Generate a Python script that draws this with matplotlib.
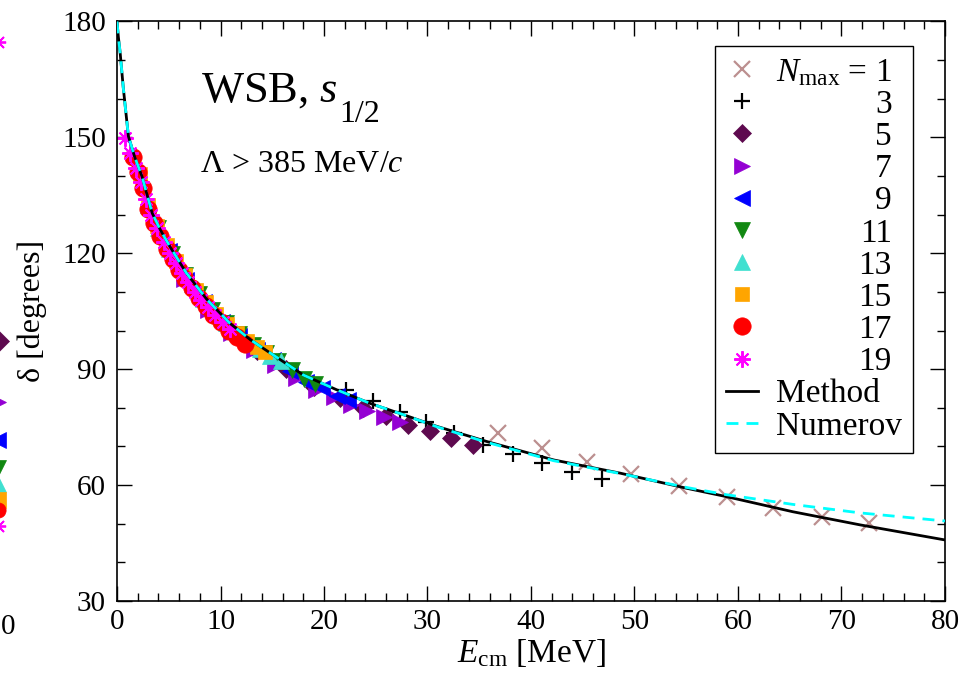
import matplotlib
matplotlib.use('Agg')
import matplotlib.pyplot as plt
from matplotlib.ticker import MultipleLocator
from matplotlib.transforms import Bbox

plt.rcParams['font.family'] = ['Liberation Serif', 'DejaVu Serif']
plt.rcParams['mathtext.fontset'] = 'custom'
plt.rcParams['mathtext.rm'] = 'Liberation Serif'
plt.rcParams['mathtext.it'] = 'Liberation Serif:italic'
plt.rcParams['mathtext.bf'] = 'Liberation Serif:bold'

# ---------------- data ----------------
method_E = [0, 0.13, 0.3, 0.6, 1.1, 1.7, 2.4, 3.4, 4.2, 5.1, 6.7, 8.7, 10.9, 12.9,
            14.8, 18, 21.2, 24.4, 27.7, 30.9, 35.7, 42.2, 48.6, 55.0, 58.9, 65.3, 71.8, 80]
method_d = [180, 176, 172, 163, 150.3, 145, 140, 130.4, 126, 121.8, 114.9, 108, 101.9, 97.6,
            94.2, 88.5, 84.7, 81.2, 78.2, 75.2, 71.3, 66.5, 63.1, 59.2, 57.0, 53.1, 49.7, 45.8]

numerov_E = [0, 0.13, 0.3, 0.6, 1.1, 1.7, 2.4, 3.4, 4.2, 5.1, 6.7, 8.7, 10.9, 12.9,
             14.8, 18, 21.2, 24.4, 27.7, 30.9, 35.7, 42.2, 48.6, 55.0, 58.9, 65.3, 71.8, 80]
numerov_d = [180, 176, 172, 163, 150.3, 145, 140, 130.4, 126, 121.8, 114.9, 108, 101.9, 97.6,
             94.2, 88.5, 84.7, 81.2, 78.2, 75.1, 71.1, 66.3, 63.0, 59.4, 57.5, 55.0, 52.8, 50.7]

N1_E = [36.8, 41.1, 45.4, 49.7, 54.3, 58.9, 63.4, 68.1, 72.7]
N1_d = [73.4, 69.6, 66.1, 62.9, 59.8, 56.9, 54.0, 51.8, 50.1]

N3_E = [22.1, 24.7, 27.3, 29.9, 32.6, 35.4, 38.3, 41.1, 44.0, 46.9]
N3_d = [84.7, 81.8, 79.0, 76.4, 73.5, 70.4, 68.0, 65.8, 63.5, 61.6]

N5_E = [10.5, 13.5, 16.3, 19.0, 21.5, 23.8, 26.0, 28.1, 30.2, 32.3, 34.4]
N5_d = [101.2, 94.8, 90.0, 85.4, 82.5, 80.0, 77.8, 75.6, 73.9, 72.2, 70.4]

N7_E = [6.5, 8.8, 11.0, 13.2, 15.3, 17.3, 19.2, 21.0, 22.6, 24.2, 25.8, 27.3]
N7_d = [113.4, 105.3, 99.4, 94.9, 91.2, 87.7, 84.7, 82.7, 80.8, 79.1, 77.6, 76.3]

N9_E = [5.0, 6.7, 8.4, 10.1, 11.8, 13.5, 15.1, 16.7, 18.3, 19.8, 21.3, 22.3]
N9_d = [120.5, 113.2, 107.3, 102.3, 98.5, 95.0, 92.3, 89.5, 86.8, 85.0, 83.1, 82.0]

N11_E = [4.0, 5.3, 6.6, 7.9, 9.2, 10.5, 11.8, 13.1, 14.4, 15.6, 16.9, 18.1, 19.1]
N11_d = [126.5, 119.9, 114.3, 109.5, 105.4, 101.9, 99.0, 96.2, 94.1, 92.0, 89.7, 87.4, 86.1]

N13_E = [3.0, 4.0, 5.0, 6.1, 7.2, 8.3, 9.4, 10.5, 11.6, 12.7, 13.8, 14.8, 15.8]
N13_d = [132.5, 126.5, 121.2, 116.4, 112.1, 108.2, 104.8, 101.9, 99.4, 97.0, 95.1, 93.4, 92.0]

N15_E = [2.2, 3.0, 3.9, 4.8, 5.7, 6.6, 7.6, 8.6, 9.6, 10.6, 11.6, 12.6, 13.5, 14.3]
N15_d = [140.5, 132.5, 127.0, 122.2, 118.0, 114.3, 110.6, 107.3, 104.2, 101.7, 99.4, 97.2, 95.7, 94.4]

N17_E = [1.5, 2.0, 2.5, 3.0, 3.6, 4.2, 4.8, 5.4, 6.0, 6.6, 7.2, 7.9, 8.6, 9.3, 10.0, 10.8, 11.6, 12.4]
N17_d = [145, 141, 137, 131.5, 127.8, 124.4, 121.2, 118.4, 115.8, 113.3, 111.1, 108.5, 106.3, 104.0,
         102.2, 100.0, 98.4, 96.6]

N19_E = [0.8, 1.3, 1.8, 2.3, 2.8, 3.3, 3.9, 4.5, 5.1, 5.7, 6.3, 6.9, 7.5, 8.1, 8.8, 9.5, 10.2, 10.9]
N19_d = [149.8, 146, 142, 138.5, 134, 130, 126.5, 123, 120, 117.5, 115, 112.5, 110, 108, 106, 104,
         102.2, 100.3]

# cropped neighbouring panel (only its right-most sliver is visible)
edge_d = [174.8, 97.4, 81.6, 71.7, 64.5, 60.3, 56.2, 53.6, 49.4]
edge_markers = [(8, 2, 0), 'D', '>', '<', 'v', '^', 's', 'o', (8, 2, 0)]
edge_colors = ['#ff00ff', '#5e0a4f', '#9400d3', '#0000ff', '#118811', '#40e0d0', '#ffa500', '#ff0000', '#ff00ff']

nmax_labels = [r'$N_{\rm max}$ = 1', '3', '5', '7', '9', '11', '13', '15', '17', '19']
x_ticks = [0, 10, 20, 30, 40, 50, 60, 70, 80]
y_ticks = [30, 60, 90, 120, 150, 180]

# ---------------- figure ----------------
fig = plt.figure(figsize=(9.67, 6.82), dpi=100)
ax = fig.add_axes([0.121, 0.1188, 0.8562, 0.8497])

# sliver of the neighbouring panel at the far left
ax0 = fig.add_axes([-0.2, 0.1188, 0.2, 0.8497])
ax0.set_xlim(0, 1)
ax0.set_ylim(30, 180)
ax0.axis('off')
for dv, mk, c in zip(edge_d, edge_markers, edge_colors):
    ax0.plot([0.99], [dv], ls='none', marker=mk, color=c, markeredgecolor=c, ms=11,
             mew=1.3 if isinstance(mk, tuple) else 0.5, clip_on=False)
fig.text(0.001, 1 - 627 / 682, '0', fontsize=21, ha='left', va='center')

styles = [
    dict(marker='x', color='#bc8f8f', ms=11, mew=1.6),
    dict(marker='+', color='black', ms=12, mew=1.6),
    dict(marker='D', color='#5e0a4f', ms=9, mew=0.5),
    dict(marker='>', color='#9400d3', ms=11, mew=0.5),
    dict(marker='<', color='#0000ff', ms=11, mew=0.5),
    dict(marker='v', color='#118811', ms=11, mew=0.5),
    dict(marker='^', color='#40e0d0', ms=11, mew=0.5),
    dict(marker='s', color='#ffa500', ms=10.5, mew=0.5),
    dict(marker='o', color='#ff0000', ms=12.5, mew=0.5),
    dict(marker=(8, 2, 0), color='#ff00ff', ms=12, mew=1.4),
]
series = [(N1_E, N1_d), (N3_E, N3_d), (N5_E, N5_d), (N7_E, N7_d), (N9_E, N9_d),
          (N11_E, N11_d), (N13_E, N13_d), (N15_E, N15_d), (N17_E, N17_d), (N19_E, N19_d)]

for (E, d), st, lab in zip(series, styles, nmax_labels):
    ax.plot(E, d, ls='none', label=lab, markeredgecolor=st['color'], **st)

ax.plot(method_E, method_d, color='black', lw=2.0, label='Method', zorder=5)
ax.plot(numerov_E, numerov_d, color='#00ffff', lw=2.0, ls=(0, (4.3, 2.9)), label='Numerov', zorder=6)

ax.set_xlim(0, 80)
ax.set_ylim(30, 180)
ax.set_xticks(x_ticks)
ax.set_yticks(y_ticks)
ax.xaxis.set_minor_locator(MultipleLocator(2))
ax.yaxis.set_minor_locator(MultipleLocator(10))
ax.tick_params(which='both', direction='in', top=True, right=True, width=1.0, labelsize=21)
ax.tick_params(which='major', length=11, pad=6)
ax.tick_params(which='minor', length=5.5)
ax.tick_params(axis='y', which='major', pad=8)
for sp in ax.spines.values():
    sp.set_linewidth(1.2)

ax.set_xlabel(r'$E_{\rm cm}$ [MeV]', fontsize=24)
ax.set_ylabel(r'δ [degrees]', fontsize=23)
ax.xaxis.set_label_coords(0.5, -0.063)
ax.yaxis.set_label_coords(-0.084, 0.5)

ax.text(0.102, 0.861, r'WSB, $s$', transform=ax.transAxes, fontsize=32, va='baseline', ha='left')
ax.text(0.268, 0.8271, '1/2', transform=ax.transAxes, fontsize=23, va='baseline', ha='left')
ax.text(0.100, 0.741, r'Λ > 385 MeV/$c$', transform=ax.transAxes, fontsize=23, va='baseline', ha='left')

leg = ax.legend(loc='upper right', bbox_to_anchor=(0.9614, 0.9577), bbox_transform=ax.transAxes,
                fontsize=24, frameon=True, fancybox=False, edgecolor='black', framealpha=1,
                borderpad=0.33, labelspacing=0.05, handlelength=0.96, handletextpad=0.54,
                borderaxespad=0, numpoints=1)
leg.get_frame().set_linewidth(1.0)

# right-align the N_max numbers in the legend
fig.canvas.draw()
renderer = fig.canvas.get_renderer()
text_boxes = []
for col in leg._legend_handle_box.get_children():
    for row in col.get_children():
        text_boxes.append(row.get_children()[1])
num_boxes = text_boxes[:len(nmax_labels)]
W = max(tb.get_bbox(renderer).width for tb in num_boxes)
for tb in num_boxes:
    tb._text.set_horizontalalignment('right')
    orig = tb.get_bbox
    def new_bbox(renderer, orig=orig):
        b = orig(renderer)
        return Bbox.from_bounds(-W, b.y0, W, b.height)
    tb.get_bbox = new_bbox

fig.savefig('out.png', dpi=100)
